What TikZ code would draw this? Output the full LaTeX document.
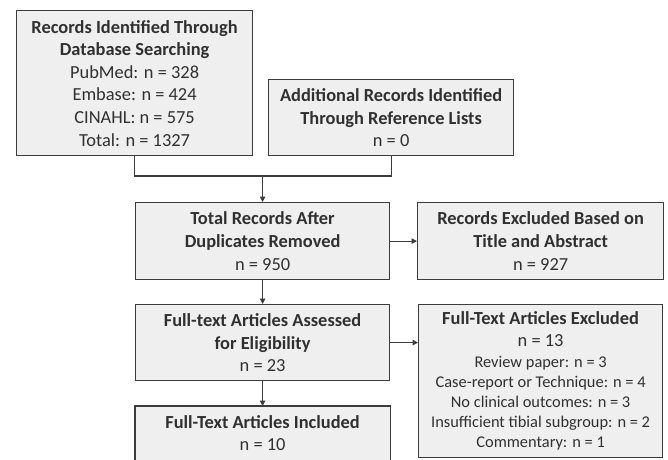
\documentclass[tikz,border=0pt]{standalone}
\usepackage{fontspec}
\setmainfont{Carlito}
\usetikzlibrary{arrows.meta}
\definecolor{boxfill}{HTML}{EFEFEF}
\definecolor{boxline}{HTML}{3C3C3C}
\definecolor{txt}{HTML}{303030}
\tikzset{
  box/.style={fill=boxfill, draw=boxline, line width=1.2pt, inner sep=0pt,
    align=center, text=txt, anchor=north west,
    font=\fontsize{18.4}{22.6}\selectfont},
  smallbox/.style={box, font=\fontsize{16.4}{20}\selectfont},
  openbox/.style={box, draw=none},
  boxedge/.style={draw=boxline, line width=1.1pt},
  link/.style={draw=boxline, line width=1.1pt},
  arr/.style={link, -{Triangle[length=5.5pt,width=5.5pt]}}
}
\newcommand{\ttl}[1]{{\fontsize{18.4}{22.6}\selectfont\bfseries #1}}
\begin{document}
\begin{tikzpicture}[x=1pt,y=-1pt]
\useasboundingbox (0,0) rectangle (668,459);

\node[box, minimum width=236pt, minimum height=145pt] (b1) at (16,10)
  {\textbf{Records Identified Through}\\ \textbf{Database Searching}\\
   PubMed: n = 328\\ Embase: n = 424\\ CINAHL: n = 575\\ Total: n = 1327};
\node[box, minimum width=245pt, minimum height=76pt] (b2) at (268,79)
  {\textbf{Additional Records Identified}\\ \textbf{Through Reference Lists}\\ n = 0};
\node[box, minimum width=254pt, minimum height=77pt] (b3) at (135,202)
  {\textbf{Total Records After}\\ \textbf{Duplicates Removed}\\ n = 950};
\node[box, minimum width=246pt, minimum height=77pt] (b4) at (417,202)
  {\textbf{Records Excluded Based on}\\ \textbf{Title and Abstract}\\ n = 927};
\node[box, minimum width=254pt, minimum height=76pt] (b5) at (135,304)
  {\textbf{Full-text Articles Assessed}\\ \textbf{for Eligibility}\\ n = 23};
\node[smallbox, minimum width=244pt, minimum height=153pt] (b6) at (418,304)
  {\ttl{Full-Text Articles Excluded}\\[1.5pt]
   {\fontsize{18.4}{22.6}\selectfont n = 13}\\[1.5pt]
   Review paper: n = 3\\ Case-report or Technique: n = 4\\
   No clinical outcomes: n = 3\\ Insufficient tibial subgroup: n = 2\\
   Commentary: n = 1};
\node[openbox, minimum width=254pt, minimum height=53pt] (b7) at (135,406)
  {\textbf{Full-Text Articles Included}\\ n = 10};
\draw[boxedge] (b7.south west) -- (b7.north west) -- (b7.north east) -- (b7.south east);

\coordinate (jy) at (0,176);
\draw[link] (b1.south) -- (b1.south |- jy) -- (b2.south |- jy) -- (b2.south);
\coordinate (jm) at (b3.north |- jy);
\draw[arr] (jm) -- (b3.north);
\draw[arr] (b3.east) -- (b4.west);
\draw[arr] (b3.south) -- (b5.north);
\draw[arr] (b5.east) -- (b5.east -| b6.west);
\draw[arr] (b5.south) -- (b7.north);
\end{tikzpicture}
\end{document}
